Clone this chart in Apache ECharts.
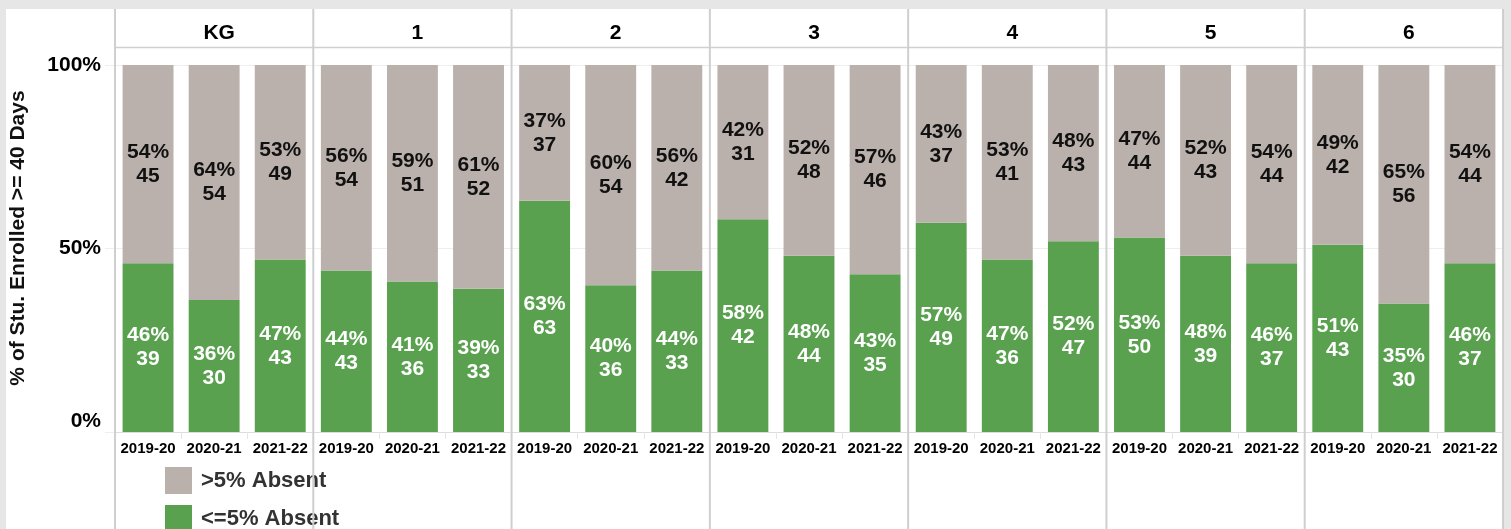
<!DOCTYPE html>
<html>
<head>
<meta charset="utf-8">
<script src="https://cdn.jsdelivr.net/npm/echarts@6/dist/echarts.min.js"></script>
<style>
html, body { margin: 0; padding: 0; background: #e6e6e6; }
#chart { width: 1511px; height: 529px; }
</style>
</head>
<body>
<div id="chart"></div>
<script>
// grades and school years
var grades = ['KG', '1', '2', '3', '4', '5', '6'];
var years = ['2019-20', '2020-21', '2021-22'];

// <=5% absent: percent and student count, per grade
var lowPct = [[46, 36, 47], [44, 41, 39], [63, 40, 44], [58, 48, 43], [57, 47, 52], [53, 48, 46], [51, 35, 46]];
var lowCnt = [[39, 30, 43], [43, 36, 33], [63, 36, 33], [42, 44, 35], [49, 36, 47], [50, 39, 37], [43, 30, 37]];
// >5% absent
var highPct = [[54, 64, 53], [56, 59, 61], [37, 60, 56], [42, 52, 57], [43, 53, 48], [47, 52, 54], [49, 65, 54]];
var highCnt = [[45, 54, 49], [54, 51, 52], [37, 54, 42], [31, 48, 46], [37, 41, 43], [44, 43, 44], [42, 56, 44]];

var yTicks = ['0%', '50%', '100%'];

var chart = echarts.init(document.getElementById('chart'));

var left0 = 115, right0 = 1503, plotTop = 65, plotBottom = 432;
var panelW = (right0 - left0) / grades.length;
var font = "'Liberation Sans', Arial, sans-serif";

var grids = [], xAxes = [], yAxes = [], series = [], titles = [];
var graphics = [
    { type: 'rect', shape: { x: 6, y: 9, width: right0 - 6, height: 529 }, style: { fill: '#fff' }, z: -10, silent: true },
    { type: 'line', shape: { x1: left0, y1: 47.5, x2: right0, y2: 47.5 }, style: { stroke: '#cfcfcf', lineWidth: 1.5 }, z: 10 },
    { type: 'text', x: 18, y: 238, rotation: Math.PI / 2,
      style: { text: '% of Stu. Enrolled >= 40 Days', fontSize: 21, fontWeight: 'bold', fontFamily: font,
               fill: '#111', textAlign: 'center', textVerticalAlign: 'middle' } }
];

grades.forEach(function (g, i) {
    var x = left0 + i * panelW;
    grids.push({ left: x, top: plotTop, width: panelW, height: plotBottom - plotTop });
    xAxes.push({
        type: 'category', gridIndex: i, data: years,
        axisLine: { lineStyle: { color: '#dcdcdc' } },
        axisTick: { show: true, length: 7, lineStyle: { color: '#e6e6e6' } },
        axisLabel: { interval: 0, color: '#000', fontWeight: 'bold', fontSize: 15, fontFamily: font, margin: 9 }
    });
    yAxes.push({
        type: 'value', gridIndex: i, min: 0, max: 100, interval: 50,
        axisLine: { show: false },
        axisTick: { show: i === 0, length: 10, lineStyle: { color: '#eeeeee' } },
        splitLine: { lineStyle: { color: '#eeeeee' } },
        axisLabel: {
            show: i === 0, margin: 14,
            formatter: function (v) { return v === 0 ? '{z|' + yTicks[0] + '}' : yTicks[v / 50]; },
            color: '#000', fontWeight: 'bold', fontSize: 21, fontFamily: font,
            rich: { z: { fontWeight: 'bold', fontSize: 21, fontFamily: font, color: '#000', padding: [0, 0, 22, 0] } }
        }
    });
    titles.push({
        text: g, left: x + panelW / 2, top: 17, textAlign: 'center',
        textStyle: { fontSize: 21, fontWeight: 'bold', fontFamily: font, color: '#000', lineHeight: 22 }
    });
    series.push({
        name: '<=5% Absent', type: 'bar', xAxisIndex: i, yAxisIndex: i, stack: 's' + i,
        barCategoryGap: '23%', data: lowPct[i], itemStyle: { color: '#59a14f' },
        label: {
            show: true, position: 'inside', color: '#fff', fontWeight: 'bold', fontSize: 21,
            fontFamily: font, lineHeight: 24,
            formatter: function (p) { return p.value + '%\n' + lowCnt[i][p.dataIndex]; }
        }
    });
    series.push({
        name: '>5% Absent', type: 'bar', xAxisIndex: i, yAxisIndex: i, stack: 's' + i,
        barCategoryGap: '23%', data: highPct[i], itemStyle: { color: '#bab0ac' },
        label: {
            show: true, position: 'inside', color: '#111', fontWeight: 'bold', fontSize: 21,
            fontFamily: font, lineHeight: 24,
            formatter: function (p) { return p.value + '%\n' + highCnt[i][p.dataIndex]; }
        }
    });
});

for (var k = 0; k <= grades.length; k++) {
    var lx = left0 + k * panelW;
    graphics.push({ type: 'line', shape: { x1: lx, y1: 9, x2: lx, y2: 529 },
                    style: { stroke: '#cfcfcf', lineWidth: 2 }, z: 10, silent: true });
}

var option = {
    backgroundColor: '#e6e6e6',
    animation: false,
    title: titles,
    legend: {
        data: ['>5% Absent', '<=5% Absent'],
        orient: 'vertical', left: 165, top: 467, height: 100, padding: 0,
        itemWidth: 27, itemHeight: 27, itemGap: 11, icon: 'rect',
        textStyle: { fontSize: 22, fontWeight: 'bold', fontFamily: font, color: '#333', padding: [0, 0, 0, 4] }
    },
    grid: grids,
    xAxis: xAxes,
    yAxis: yAxes,
    series: series,
    graphic: graphics
};
chart.setOption(option);
</script>
</body>
</html>
